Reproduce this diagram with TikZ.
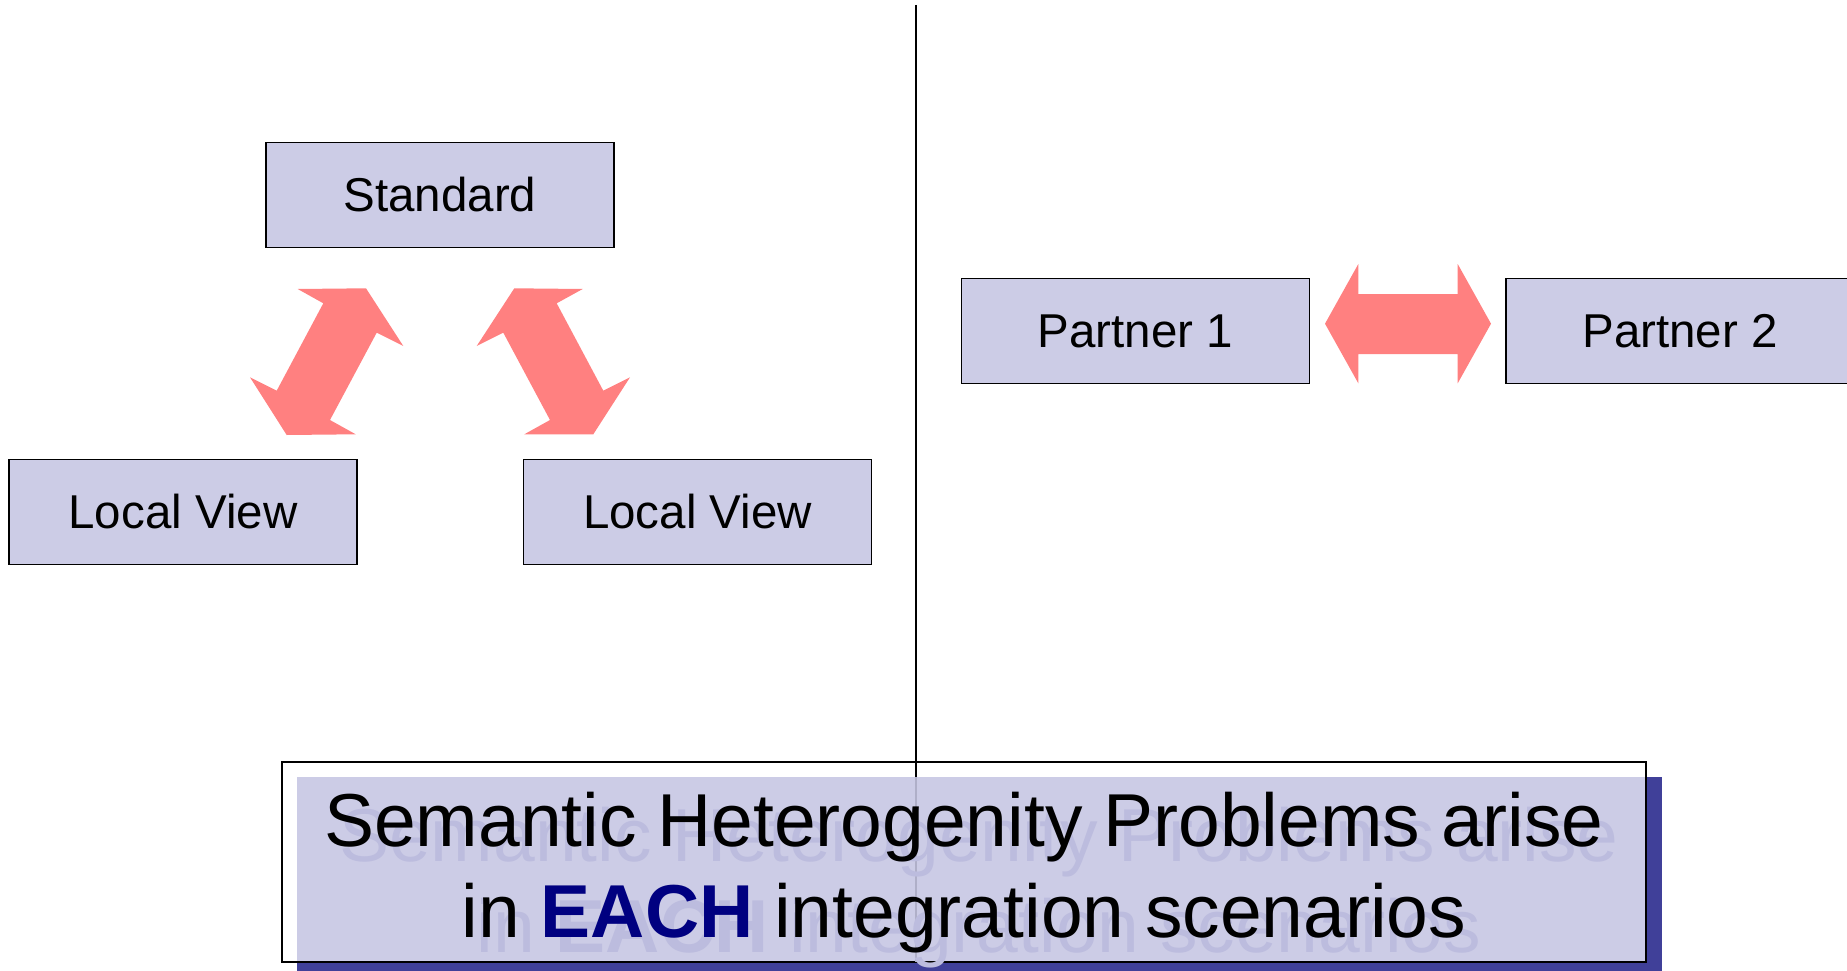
\documentclass[tikz,border=0pt]{standalone}
\usepackage{fontspec}
\setmainfont{Liberation Sans}
\definecolor{boxfill}{RGB}{204,204,230}
\definecolor{arrowred}{RGB}{255,128,128}
\definecolor{shadowblue}{RGB}{64,64,153}
\definecolor{ghost}{RGB}{188,188,222}
\definecolor{eachblue}{RGB}{0,0,128}
\definecolor{faintline}{RGB}{175,175,200}
\begin{document}
\begin{tikzpicture}[x=1pt,y=-1pt,
  box/.style={draw=black, line width=1.8pt, fill=boxfill, minimum width=348pt,
    minimum height=105pt, inner sep=0pt, font=\fontsize{47.5}{57}\selectfont},
  blockarrow/.style={fill=arrowred, draw=none},
  bigtext/.style={anchor=base, inner sep=0pt, font=\fontsize{75}{90}\selectfont}]
\useasboundingbox (0,0) rectangle (1847,971);
\clip (0,0) rectangle (1847,971);
\fill[white] (0,0) rectangle (1847,971);

% boxes
\node[box] (std) at (440,195) {Standard};
\node[box] (lv1) at (183,512) {Local View};
\node[box] (lv2) at (697.5,512) {Local View};
\node[box] (p1) at (1135.5,331) {Partner 1};
\node[box] (p2) at (1680,331) {Partner 2};

% block arrows
\fill[blockarrow] (297.7,289) -- (366,288.3) -- (403.3,346) -- (376.7,332.7) -- (330,420)
  -- (355.7,434.3) -- (286.7,435) -- (250,377.3) -- (276.7,390.7) -- (323.3,303.3) -- cycle;
\fill[blockarrow] (582.7,289) -- (514.3,288.3) -- (476.7,346) -- (503.3,332.7) -- (550,420)
  -- (524.3,434.3) -- (593.3,434.3) -- (630,377.3) -- (603.3,390.7) -- (556.7,303.3) -- cycle;
\fill[blockarrow] (1325,323.7) -- (1358.3,264) -- (1358.3,294) -- (1457.7,294) -- (1457.7,264)
  -- (1491,323.7) -- (1457.7,383.3) -- (1457.7,354) -- (1358.3,354) -- (1358.3,383.3) -- cycle;

% bottom banner
\fill[shadowblue] (297,777) rectangle (1662,985);
\fill[boxfill] (297,777) rectangle (1646,962);
\draw[line width=1.3pt] (282,762) rectangle (1646,962);

% divider
\coordinate (dtop) at (916,5);
\coordinate (dmid) at (916,777);
\coordinate (dbot) at (916,962);
\draw[line width=1.6pt] (dtop) -- (dmid);
\draw[line width=1.6pt, faintline] (dmid) -- (dbot);

% banner text (ghost then main)
\node[bigtext, text=ghost] (g1) at (979,861) {Semantic Heterogenity Problems arise};
\node[bigtext, text=ghost] (g2) at (979,952) {in \textbf{EACH} integration scenarios};
\node[bigtext] (t1) at (964,846) {Semantic Heterogenity Problems arise};
\node[bigtext] (t2) at (964,937) {in \textbf{\color{eachblue}EACH} integration scenarios};
\end{tikzpicture}
\end{document}
